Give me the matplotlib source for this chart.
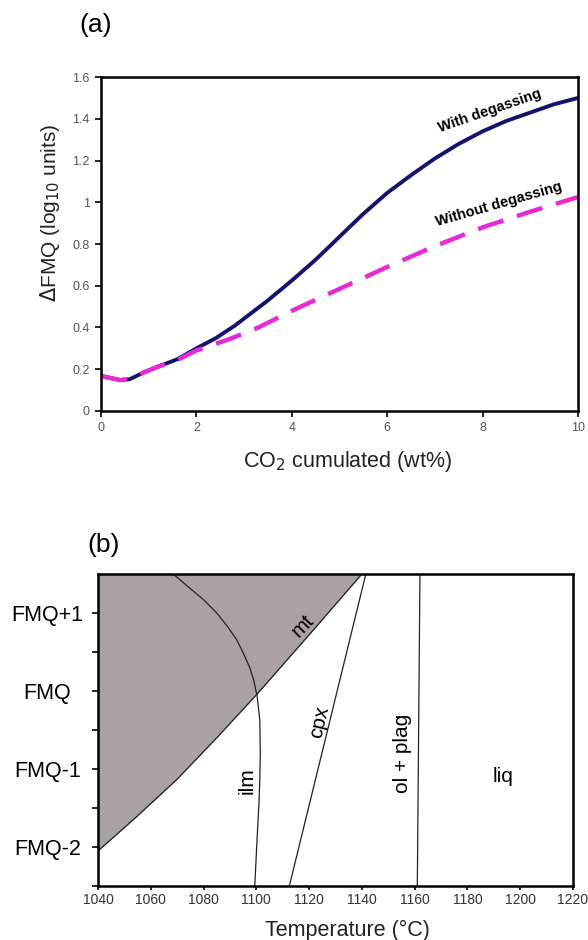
import numpy as np
import matplotlib
matplotlib.use('Agg')
import matplotlib.pyplot as plt

plt.rcParams['font.family'] = ['Liberation Sans', 'DejaVu Sans']

# panel (a): dFMQ vs cumulated CO2
co2_with = [0, 0.2, 0.4, 0.6, 0.9, 1.2, 1.6, 2, 2.4, 2.8, 3.5, 4, 4.5, 5, 5.5, 6, 6.5, 7, 7.5, 8, 8.5, 9, 9.5, 10]
fmq_with = [0.168, 0.158, 0.148, 0.152, 0.185, 0.213, 0.248, 0.30, 0.348, 0.408, 0.53, 0.625, 0.725, 0.835, 0.945, 1.045, 1.13, 1.21, 1.28, 1.34, 1.39, 1.43, 1.47, 1.50]
co2_without = [0, 0.2, 0.4, 0.6, 0.9, 1.2, 1.6, 2, 2.7, 3.3, 4, 5, 6, 7, 8, 9, 10]
fmq_without = [0.168, 0.158, 0.148, 0.152, 0.185, 0.213, 0.245, 0.29, 0.345, 0.40, 0.48, 0.585, 0.69, 0.79, 0.88, 0.955, 1.025]

# panel (b): phase boundaries (T in C, dFMQ)
mt_T = [1040, 1055, 1070, 1085, 1100, 1120, 1140]
mt_fmq = [-2.05, -1.6, -1.13, -0.6, -0.05, 0.72, 1.5]
ilm_T = [1068.5, 1074, 1080, 1085, 1089, 1092.5, 1095, 1097.5, 1099, 1100.3, 1101.3, 1101.5, 1101.3, 1101, 1100.3, 1099.4]
ilm_fmq = [1.5, 1.34, 1.17, 1.0, 0.83, 0.66, 0.49, 0.3, 0.14, -0.07, -0.37, -0.8, -1.15, -1.44, -1.88, -2.5]
cpx_T = [1112.5, 1141.5]
cpx_fmq = [-2.5, 1.5]
olplag_T = [1161, 1162]
olplag_fmq = [-2.5, 1.5]
fmq_ticks = [-2, -1, 0, 1]
fmq_labels = ['FMQ-2', 'FMQ-1', 'FMQ', 'FMQ+1']

fig = plt.figure(figsize=(5.88, 9.4), dpi=100)

# ---- (a)
ax = fig.add_axes([0.1718, 0.5628, 0.8112, 0.3552])
ax.plot(co2_with, fmq_with, color='#14146e', lw=2.8, solid_capstyle='round', solid_joinstyle='round')
ax.plot(co2_without, fmq_without, color='#e62ad6', lw=3.2, dashes=(6, 3.2))
ax.set_xlim(0, 10)
ax.set_ylim(0, 1.6)
ax.set_xticks([0, 2, 4, 6, 8, 10])
ax.set_yticks([0, 0.2, 0.4, 0.6, 0.8, 1, 1.2, 1.4, 1.6])
ax.set_yticklabels(['0', '0.2', '0.4', '0.6', '0.8', '1', '1.2', '1.4', '1.6'])
ax.tick_params(direction='out', length=4, width=1.2, labelsize=9, labelcolor='#555555', pad=4)
for s in ax.spines.values():
    s.set_linewidth(1.8)
ax.set_xlabel('CO$_2$ cumulated (wt%)', fontsize=15.5, color='#222222')
ax.xaxis.set_label_coords(0.517, -0.115)
ax.set_ylabel(r'$\Delta$FMQ (log$_{10}$ units)', fontsize=15, color='#222222', va='center')
ax.yaxis.set_label_coords(-0.107, 0.593)
ax.text(8.15, 1.44, 'With degassing', fontsize=10.5, fontweight='bold', rotation=19,
        ha='center', va='center')
ax.text(8.35, 0.99, 'Without degassing', fontsize=10.5, fontweight='bold', rotation=16,
        ha='center', va='center')
fig.text(0.162, 0.973, '(a)', fontsize=19, ha='center', va='center')

# ---- (b)
bx = fig.add_axes([0.1667, 0.0574, 0.8078, 0.3320])
bx.fill_between(mt_T, mt_fmq, 1.5, color='#aaa2a2', lw=0)
bx.plot(mt_T, mt_fmq, color='#222222', lw=0.9)
bx.plot(ilm_T, ilm_fmq, color='#222222', lw=0.9)
bx.plot(cpx_T, cpx_fmq, color='#222222', lw=0.9)
bx.plot(olplag_T, olplag_fmq, color='#222222', lw=0.9)
bx.set_xlim(1040, 1220)
bx.set_ylim(-2.5, 1.5)
bx.set_xticks(np.arange(1040, 1221, 20))
bx.set_yticks(fmq_ticks)
bx.set_yticklabels(fmq_labels)
bx.set_yticks([-2.5, -1.5, -0.5, 0.5], minor=True)
bx.tick_params(axis='x', direction='out', length=3, width=1.2, labelsize=10, labelcolor='#333333', pad=2)
bx.tick_params(axis='y', direction='out', length=4, width=1.2, labelsize=15.5, pad=32.5)
bx.tick_params(axis='y', which='minor', direction='out', length=4, width=1.2)
for lab in bx.get_yticklabels():
    lab.set_ha('center')
for s in bx.spines.values():
    s.set_linewidth(1.8)
bx.set_xlabel('Temperature (°C)', fontsize=15.5, color='#222222')
bx.xaxis.set_label_coords(0.525, -0.108)
bx.text(1117.5, 0.83, 'mt', fontsize=15, rotation=46, ha='center', va='center')
bx.text(1096.5, -1.15, 'ilm', fontsize=15, rotation=90, ha='center', va='center')
bx.text(1124, -0.4, 'cpx', fontsize=15, rotation=77, ha='center', va='center')
bx.text(1155.5, -0.8, 'ol + plag', fontsize=15, rotation=90, ha='center', va='center')
bx.text(1193.5, -1.1, 'liq', fontsize=15, ha='center', va='center')
fig.text(0.176, 0.42, '(b)', fontsize=19, ha='center', va='center')

fig.savefig('out.png', dpi=100)
